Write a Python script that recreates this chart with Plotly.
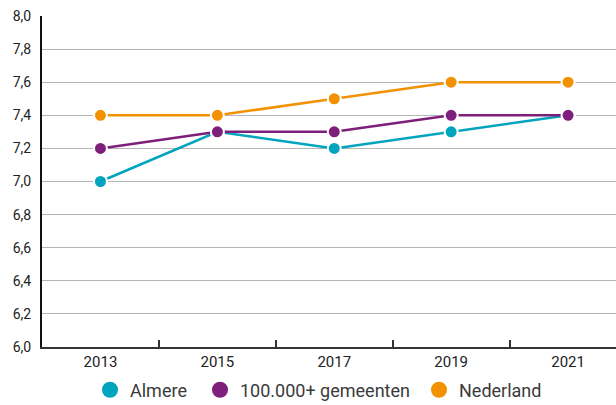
import plotly.graph_objects as go

years = ["2013", "2015", "2017", "2019", "2021"]
almere = [7.0, 7.3, 7.2, 7.3, 7.4]
gemeenten = [7.2, 7.3, 7.3, 7.4, 7.4]
nederland = [7.4, 7.4, 7.5, 7.6, 7.6]
names = ["Almere", "100.000+ gemeenten", "Nederland"]
colors = ["#00A4BE", "#7D1F7B", "#F39200"]
series = [almere, gemeenten, nederland]
yticks = [6.0, 6.2, 6.4, 6.6, 6.8, 7.0, 7.2, 7.4, 7.6, 7.8, 8.0]

font = "Roboto"
fig = go.Figure()
for name, col, vals in zip(names, colors, series):
    fig.add_trace(go.Scatter(
        x=years, y=vals, mode="lines+markers", name=name, showlegend=False,
        line=dict(color=col, width=2.5),
        marker=dict(size=13, color=col, line=dict(color="white", width=2)),
    ))
legend_ids = ["legend", "legend2", "legend3"]
for name, col, lid in zip(names, colors, legend_ids):
    fig.add_trace(go.Scatter(
        x=[None], y=[None], mode="markers", name=name, legend=lid,
        marker=dict(size=16, color=col),
    ))

leg_common = dict(orientation="h", xanchor="left", y=-0.13, yanchor="middle",
                  font=dict(size=18, color="#3a3a3a"), itemwidth=30,
                  bgcolor="rgba(0,0,0,0)")
# legend left edges in paper fraction of plot width (574px, starting at 42px)
fig.update_layout(
    width=616, height=405,
    margin=dict(l=42, r=0, t=16, b=58, autoexpand=False),
    paper_bgcolor="white", plot_bgcolor="white",
    separators=",.",
    font=dict(family=font, size=13, color="#222222"),
    showlegend=True,
    legend=dict(x=(110 - 62) / 574, **leg_common),
    legend2=dict(x=(220 - 62) / 574, **leg_common),
    legend3=dict(x=(439 - 62) / 574, **leg_common),
    xaxis=dict(type="category", range=[-0.5, 4.41], showgrid=False, automargin=False,
               showline=True, linecolor="#333333", linewidth=2,
               ticks="inside", tickson="boundaries", ticklen=7, tickwidth=1.5,
               tickcolor="#333333", tickfont=dict(size=15, color="#222222")),
    yaxis=dict(range=[6.0, 8.0], tickvals=yticks, tickformat=".1f", automargin=False,
               showgrid=True, gridcolor="#b5b5b5", gridwidth=1,
               showline=True, linecolor="#111111", linewidth=2, ticklabelstandoff=6,
               zeroline=False, ticks="", tickfont=dict(size=14, color="#222222")),
)
fig.write_html("out.html", config={"displayModeBar": False},
               post_script="document.body.style.margin='0px';")
